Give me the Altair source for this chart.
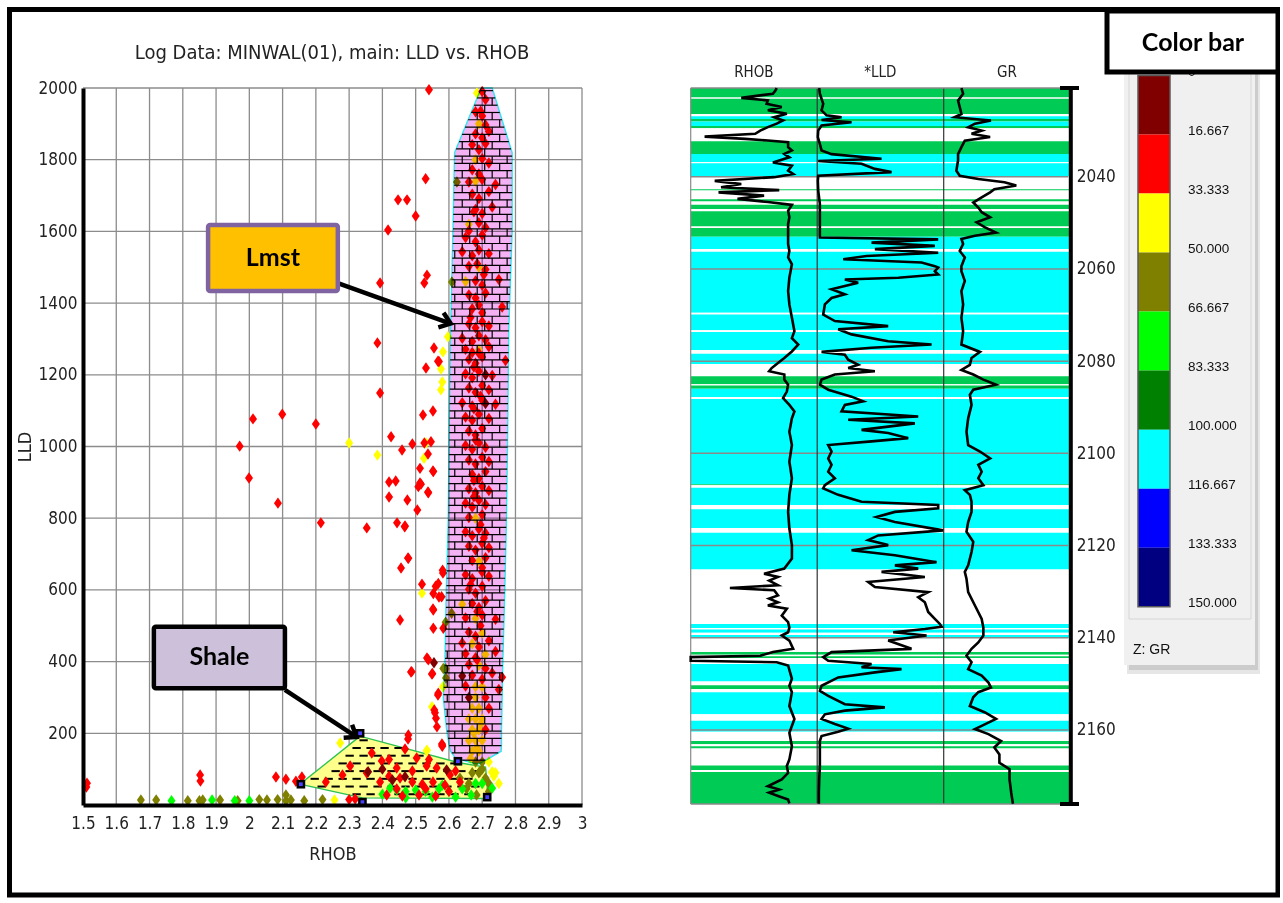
import altair as alt
import numpy as np
import pandas as pd

W, H = 1280, 898
NARROW = "Liberation Sans Narrow, DejaVu Sans Condensed, Arial Narrow, sans-serif"
SANS = "Liberation Sans, Arial, sans-serif"
BOLD = "Lato, Open Sans, Liberation Sans, sans-serif"

# ---------------- data ----------------
title_text = "Log Data: MINWAL(01), main: LLD vs. RHOB"
x_ticks = [1.5, 1.6, 1.7, 1.8, 1.9, 2.0, 2.1, 2.2, 2.3, 2.4, 2.5, 2.6, 2.7, 2.8, 2.9, 3.0]
y_ticks = [200, 400, 600, 800, 1000, 1200, 1400, 1600, 1800, 2000]

gr_breaks = [16.667, 33.333, 50.0, 66.667, 83.333, 100.0, 116.667, 133.333]
gr_colors = ["#800000", "#FF0000", "#FFFF00", "#808000", "#00FF00",
             "#008000", "#00FFFF", "#0000FF", "#000080"]
cb_ticks = [0, 16.667, 33.333, 50.0, 66.667, 83.333, 100.0, 116.667, 133.333, 150.0]
cb_labels = ["0", "16.667", "33.333", "50.000", "66.667", "83.333",
             "100.000", "116.667", "133.333", "150.000"]

# crossplot points (RHOB, LLD) grouped by GR class
red_pts = [
    (2.54, 1995), (2.53, 1747), (2.447, 1688), (2.474, 1688), (2.50, 1643), (2.417, 1604),
    (2.393, 1456), (2.534, 1478), (2.526, 1456), (2.385, 1289), (2.555, 1275), (2.567, 1238),
    (2.531, 1219), (2.393, 1149), (2.522, 1088), (2.552, 1099), (2.011, 1077), (2.099, 1090),
    (2.20, 1063), (1.971, 1001), (2.426, 1027), (2.459, 990), (2.49, 1007), (2.526, 1010),
    (2.537, 979), (2.57, 1237), (2.546, 1013), (2.553, 930), (2.513, 939), (2.516, 895),
    (2.508, 888), (2.538, 871), (2.475, 851), (2.505, 823), (2.467, 776), (2.478, 688),
    (2.581, 655), (2.568, 618), (2.553, 590), (2.578, 581), (2.553, 544), (2.553, 493),
    (2.583, 493), (2.538, 405), (2.488, 372), (2.55, 367), (2.568, 312), (2.556, 265),
    (2.561, 242), (2.478, 195), (2.58, 167), (1.999, 912), (2.086, 842), (2.215, 787),
    (2.353, 773), (2.42, 901), (2.44, 904), (2.42, 859), (2.513, 898), (2.537, 873),
    (2.552, 932), (2.444, 787), (2.468, 778), (2.477, 689), (2.456, 661), (2.519, 616),
    (2.56, 610), (2.57, 580), (2.582, 647), (2.453, 516), (2.552, 547), (2.534, 410),
    (2.486, 371), (2.549, 365), (2.567, 307), (2.558, 257), (2.564, 218), (2.579, 170),
    (1.512, 61), (1.51, 50), (1.852, 84), (1.853, 67), (2.08, 78), (2.11, 72), (2.14, 66),
    (2.158, 78), (2.23, 64),
    (2.368, 145), (2.398, 123), (2.42, 127), (2.443, 103), (2.477, 184), (2.468, 156),
    (2.503, 131), (2.533, 109), (2.54, 127), (2.563, 103), (2.58, 164), (2.303, 109),
    (2.28, 84), (2.353, 89), (2.393, 64), (2.42, 80), (2.453, 75), (2.49, 64), (2.52, 58),
    (2.552, 64), (2.588, 56), (2.603, 84), (2.633, 64), (2.413, 28), (2.46, 25), (2.51, 28),
    (2.56, 25), (2.443, 45), (2.53, 45), (2.60, 38), (2.318, 17), (2.30, 15), (2.49, 95),
    (2.62, 95),
    (2.70, 1990), (2.71, 1968), (2.68, 1934), (2.70, 1922), (2.71, 1897), (2.68, 1872),
    (2.70, 1861), (2.72, 1879), (2.67, 1842), (2.69, 1828), (2.71, 1845), (2.70, 1803),
    (2.72, 1791), (2.67, 1772), (2.69, 1760), (2.66, 1738), (2.70, 1745), (2.74, 1731),
    (2.67, 1704), (2.69, 1692), (2.72, 1711), (2.68, 1661), (2.70, 1650), (2.73, 1668),
    (2.69, 1624), (2.71, 1611), (2.65, 1583), (2.68, 1571), (2.70, 1590), (2.64, 1543),
    (2.67, 1532), (2.69, 1548), (2.72, 1538), (2.66, 1503), (2.71, 1494), (2.68, 1462),
    (2.70, 1450), (2.75, 1466), (2.66, 1423), (2.68, 1414), (2.71, 1428), (2.67, 1384),
    (2.70, 1373), (2.76, 1389), (2.66, 1342), (2.68, 1331), (2.70, 1348), (2.72, 1336),
    (2.64, 1302), (2.67, 1293), (2.69, 1309), (2.71, 1298), (2.65, 1271), (2.67, 1262),
    (2.72, 1278), (2.66, 1243), (2.68, 1232), (2.70, 1250), (2.77, 1240), (2.65, 1203),
    (2.67, 1192), (2.69, 1210), (2.73, 1198), (2.66, 1163), (2.68, 1151), (2.70, 1170),
    (2.72, 1158), (2.64, 1122), (2.67, 1113), (2.70, 1129), (2.74, 1118), (2.65, 1082),
    (2.67, 1073), (2.69, 1090), (2.72, 1078), (2.66, 1043), (2.68, 1032), (2.70, 1050),
    (2.65, 1003), (2.67, 992), (2.69, 1010), (2.71, 998), (2.66, 962), (2.68, 951),
    (2.70, 970), (2.72, 958), (2.67, 922), (2.69, 911), (2.71, 930), (2.66, 882),
    (2.68, 871), (2.70, 889), (2.72, 877), (2.65, 842), (2.67, 831), (2.69, 850),
    (2.71, 838), (2.66, 802), (2.70, 810), (2.65, 762), (2.67, 751), (2.69, 770),
    (2.71, 758), (2.66, 722), (2.68, 711), (2.70, 730), (2.72, 718), (2.67, 682),
    (2.71, 690), (2.65, 642), (2.67, 631), (2.70, 650), (2.72, 638), (2.66, 602),
    (2.68, 591), (2.70, 610), (2.67, 562), (2.69, 551), (2.71, 570), (2.65, 522),
    (2.70, 530), (2.74, 518), (2.66, 482), (2.68, 471), (2.64, 452), (2.69, 441),
    (2.72, 458), (2.65, 422), (2.68, 411), (2.74, 428), (2.66, 392), (2.71, 381),
    (2.67, 362), (2.70, 351), (2.73, 368), (2.76, 356), (2.65, 332), (2.75, 322),
    (2.71, 300), (2.72, 270), (2.71, 210), (2.685, 1510), (2.675, 1105), (2.695, 782),
    (2.685, 540), (2.675, 1222), (2.69, 1395), (2.68, 1018), (2.70, 662), (2.66, 1602),
    (2.695, 1935), (2.675, 1655), (2.705, 1480), (2.665, 1360), (2.695, 1140), (2.675, 905),
    (2.705, 745), (2.665, 615), (2.695, 500), (2.685, 405), (2.675, 860), (2.69, 1260),
]
darkred_pts = [(2.555, 397), (2.357, 93), (2.468, 79), (2.593, 98), (2.71, 1200),
               (2.71, 1120), (2.64, 360), (2.66, 300), (2.43, 70), (2.40, 100)]
yellow_pts = [
    (2.30, 1010), (2.582, 1264), (2.576, 1216), (2.576, 1158), (2.58, 1180), (2.597, 1306),
    (2.385, 976), (2.531, 1010), (2.519, 591), (2.549, 274), (2.534, 153), (2.273, 173),
    (2.533, 151), (2.73, 93), (2.735, 80), (2.582, 330), (2.256, 14), (2.525, 967),
    (2.684, 1986), (2.69, 1900), (2.68, 1800), (2.68, 1740), (2.66, 1620), (2.69, 1500),
    (2.65, 1460), (2.69, 1270), (2.68, 800), (2.69, 680), (2.64, 560), (2.68, 520),
    (2.70, 480), (2.67, 450), (2.71, 420), (2.69, 390), (2.68, 330), (2.70, 330),
    (2.68, 300), (2.67, 270), (2.69, 270), (2.66, 240), (2.68, 240), (2.70, 240),
    (2.67, 210), (2.69, 210), (2.66, 180), (2.68, 180), (2.70, 180), (2.67, 150),
    (2.69, 150), (2.72, 120), (2.73, 90), (2.74, 90), (2.75, 60), (2.675, 200),
    (2.685, 160), (2.695, 225), (2.665, 130),
]
olive_pts = [
    (2.609, 1459), (2.624, 1738), (2.591, 354), (2.59, 380), (2.59, 510), (2.583, 381),
    (2.608, 535), (2.633, 75), (2.693, 93), (2.71, 75), (2.72, 38), (2.653, 45), (2.683, 28),
    (2.70, 100), (2.68, 120), (2.70, 120), (2.67, 90), (2.69, 90), (2.66, 60), (2.72, 60),
    (1.674, 14), (1.72, 14), (1.815, 12), (1.85, 12), (1.86, 14), (1.912, 14), (1.965, 12),
    (2.03, 15), (2.053, 14), (2.085, 15), (2.11, 12), (2.125, 14), (2.165, 12), (2.22, 15),
    (2.11, 28),
]
lime_pts = [
    (1.766, 12), (1.888, 14), (1.956, 12), (2.0, 12), (2.423, 47), (2.443, 42), (2.47, 38),
    (2.50, 42), (2.53, 38), (2.57, 45), (2.60, 38), (2.64, 45), (2.68, 60), (2.70, 60),
    (2.73, 47), (2.667, 28), (2.40, 30), (2.47, 20), (2.55, 22), (2.62, 22), (2.58, 55),
]
group_gr = {"olive": 58, "lime": 75, "yellow": 42, "red": 25, "darkred": 8}

# Lmst polygon outline (LLD, left RHOB, right RHOB)
lm_lld = [115, 130, 150, 170, 210, 300, 400, 600, 800, 1000, 1330, 1600, 1820, 2000]
lm_left = [2.68, 2.62, 2.605, 2.60, 2.593, 2.583, 2.588, 2.592, 2.598, 2.60, 2.605, 2.612, 2.617, 2.697]
lm_right = [2.69, 2.72, 2.757, 2.758, 2.758, 2.760, 2.762, 2.768, 2.773, 2.776, 2.78, 2.79, 2.79, 2.73]
# Shale polygon outline
sh_lld = [18, 20, 58, 106, 118, 192]
sh_left = [2.70, 2.34, 2.152, 2.217, 2.233, 2.333]
sh_right = [2.715, 2.715, 2.715, 2.71, 2.63, 2.333]
vertex_rhob = [2.333, 2.155, 2.34, 2.627, 2.715]
vertex_lld = [200, 58, 8, 122, 22]

# log curves (depth, value)
rhob_curve = [
    (2020.8, 2.63), (2021.3, 2.62), (2022.0, 2.60), (2022.9, 2.35), (2023.45, 2.56), (2024.2, 2.55),
    (2024.9, 2.67), (2025.6, 2.56), (2026.35, 2.71), (2027.1, 2.61), (2027.8, 2.68), (2028.5, 2.63),
    (2029.25, 2.56), (2030.0, 2.50), (2030.7, 2.46), (2031.3, 2.06), (2031.8, 2.38), (2032.15, 2.56),
    (2032.5, 2.72), (2033.6, 2.72), (2034.3, 2.75), (2035.05, 2.69), (2035.8, 2.73), (2036.9, 2.60),
    (2037.6, 2.75), (2038.7, 2.72), (2039.4, 2.76), (2040.1, 2.61), (2040.9, 2.14), (2041.6, 2.35),
    (2042.3, 2.19), (2042.9, 2.65), (2043.4, 2.17), (2044.1, 2.53), (2044.8, 2.32), (2045.5, 2.56),
    (2046.1, 2.75), (2047.4, 2.72), (2048.8, 2.73), (2050.3, 2.72), (2051.7, 2.72), (2053.2, 2.72),
    (2054.6, 2.72), (2056.1, 2.73), (2057.5, 2.72), (2059.0, 2.75), (2061.9, 2.73), (2064.8, 2.72),
    (2067.7, 2.73), (2070.6, 2.75), (2073.5, 2.77), (2075.0, 2.75), (2076.4, 2.80), (2077.9, 2.75),
    (2079.3, 2.69), (2080.4, 2.64), (2081.5, 2.59), (2082.2, 2.57), (2082.9, 2.69), (2084.0, 2.69),
    (2085.1, 2.72), (2086.6, 2.71), (2088.0, 2.68), (2089.5, 2.73), (2090.9, 2.77), (2092.4, 2.75),
    (2095.3, 2.73), (2098.2, 2.75), (2101.8, 2.73), (2105.4, 2.75), (2109.0, 2.73), (2112.7, 2.72),
    (2116.3, 2.73), (2119.9, 2.75), (2122.8, 2.75), (2125.0, 2.69), (2126.1, 2.53), (2126.8, 2.64),
    (2127.6, 2.57), (2128.6, 2.64), (2129.2, 2.26), (2129.7, 2.61), (2130.8, 2.64), (2131.5, 2.57),
    (2132.3, 2.64), (2133.0, 2.56), (2133.7, 2.71), (2135.2, 2.67), (2136.6, 2.72), (2137.8, 2.73),
    (2138.8, 2.72), (2139.5, 2.67), (2140.6, 2.73), (2142.4, 2.76), (2143.1, 2.60), (2143.9, 2.50),
    (2144.2, 1.95), (2145.0, 1.95), (2145.3, 2.63), (2146.0, 2.72), (2148.9, 2.75), (2150.4, 2.73),
    (2151.8, 2.75), (2154.8, 2.73), (2157.6, 2.77), (2160.6, 2.73), (2163.5, 2.75), (2166.4, 2.73),
    (2167.8, 2.71), (2169.3, 2.72), (2170.7, 2.67), (2172.2, 2.56), (2172.9, 2.65), (2173.6, 2.57),
    (2174.3, 2.64), (2175.1, 2.72), (2175.9, 2.73),
]
lld_curve = [
    (2020.8, 32), (2022.0, 42), (2024.2, 95), (2025.6, 69), (2026.7, 148), (2027.1, 385), (2027.7, 69),
    (2028.2, 543), (2028.9, 69), (2030.0, 16), (2031.4, 10), (2032.9, 42), (2034.3, 69), (2035.1, 227),
    (2036.1, 1017), (2036.6, 16), (2037.2, 701), (2038.3, 912), (2039.0, 1175), (2039.8, 16),
    (2040.9, 10), (2043.0, 16), (2045.9, 42), (2048.8, 42), (2051.7, 42), (2053.2, 42), (2053.6, 1913),
    (2054.3, 859), (2055.0, 1860), (2055.7, 912), (2056.5, 1913), (2057.2, 780), (2057.9, 411),
    (2058.6, 1650), (2059.4, 1860), (2059.7, 1913), (2060.5, 1860), (2061.2, 1913), (2061.9, 1281),
    (2062.3, 437), (2063.0, 648), (2063.7, 437), (2064.4, 227), (2065.5, 437), (2066.3, 227),
    (2067.7, 121), (2069.9, 95), (2071.3, 279), (2072.4, 1122), (2073.1, 332), (2074.2, 543),
    (2075.7, 1122), (2076.4, 1808), (2077.1, 859), (2078.0, 69), (2078.6, 437), (2079.7, 490),
    (2080.8, 648), (2081.5, 490), (2082.2, 912), (2082.9, 279), (2084.0, 69), (2085.1, 42),
    (2086.2, 174), (2087.7, 543), (2088.7, 727), (2089.5, 437), (2090.9, 385), (2092.0, 1597),
    (2092.7, 490), (2093.5, 1544), (2094.2, 1122), (2094.9, 701), (2095.6, 1122), (2096.7, 1439),
    (2097.4, 859), (2098.2, 174), (2099.6, 227), (2101.1, 174), (2102.5, 227), (2104.0, 174),
    (2105.4, 279), (2106.9, 121), (2107.6, 95), (2109.0, 332), (2110.5, 701), (2111.2, 1913),
    (2111.9, 1913), (2112.7, 1228), (2113.8, 938), (2114.9, 1228), (2116.7, 1992), (2117.8, 964),
    (2118.8, 806), (2119.9, 1122), (2121.0, 543), (2122.1, 1228), (2123.6, 1887), (2124.3, 1228),
    (2125.0, 1597), (2125.7, 1017), (2126.8, 1702), (2127.9, 806), (2129.0, 912), (2130.1, 1755),
    (2131.2, 1597), (2132.3, 1702), (2134.4, 1755), (2135.9, 1860), (2137.0, 1939), (2137.6, 1966),
    (2138.1, 1702), (2138.8, 1202), (2139.5, 1729), (2140.6, 1122), (2142.4, 1491), (2143.1, 227),
    (2144.2, 95), (2145.0, 174), (2145.7, 859), (2146.4, 701), (2146.8, 1333), (2147.5, 912),
    (2148.6, 332), (2150.4, 69), (2151.5, 42), (2152.6, 174), (2154.4, 437), (2155.1, 1070),
    (2155.8, 437), (2156.6, 121), (2157.6, 69), (2158.7, 279), (2159.7, 490), (2160.4, 332),
    (2161.3, 69), (2162.4, 42), (2164.9, 42), (2167.8, 42), (2170.7, 32), (2173.6, 26), (2176.0, 26),
]
gr_curve = [
    (2020.8, 21), (2022.0, 23), (2023.5, 17), (2024.9, 19), (2026.4, 21), (2027.1, 13), (2027.8, 56),
    (2028.5, 37), (2029.3, 29), (2030.0, 45), (2030.7, 33), (2031.4, 55), (2032.2, 25), (2033.6, 21),
    (2035.1, 17), (2036.5, 17), (2038.7, 15), (2039.8, 19), (2040.5, 41), (2041.2, 72), (2041.9, 86),
    (2042.7, 60), (2043.4, 55), (2044.5, 45), (2045.6, 35), (2046.7, 41), (2047.7, 45), (2048.8, 55),
    (2049.9, 39), (2051.0, 49), (2052.1, 62), (2052.8, 37), (2053.5, 21), (2054.6, 23), (2056.1, 19),
    (2057.5, 25), (2059.4, 21), (2060.5, 21), (2062.6, 25), (2064.8, 21), (2067.7, 23), (2070.6, 21),
    (2073.5, 23), (2076.4, 21), (2078.0, 43), (2079.3, 33), (2080.8, 31), (2081.9, 21), (2082.9, 35),
    (2084.0, 47), (2085.1, 62), (2086.2, 35), (2087.3, 31), (2089.5, 33), (2092.4, 29), (2095.3, 27),
    (2098.2, 29), (2099.6, 43), (2101.1, 55), (2102.5, 41), (2104.0, 45), (2105.4, 41), (2106.9, 47),
    (2108.0, 25), (2109.0, 31), (2110.5, 33), (2112.7, 33), (2114.9, 29), (2117.0, 27), (2119.2, 35),
    (2121.4, 33), (2124.3, 29), (2125.7, 25), (2127.2, 27), (2130.1, 29), (2133.0, 37), (2135.9, 45),
    (2137.8, 47), (2139.5, 47), (2141.0, 41), (2142.4, 33), (2143.9, 27), (2145.3, 33), (2146.8, 29),
    (2148.2, 45), (2149.7, 53), (2150.8, 56), (2151.8, 41), (2152.9, 35), (2154.8, 31), (2156.2, 49),
    (2157.6, 62), (2159.1, 45), (2159.8, 37), (2160.9, 53), (2162.4, 68), (2163.8, 60), (2165.3, 66),
    (2167.1, 66), (2168.5, 78), (2170.7, 78), (2173.6, 80), (2176.0, 82),
]
# lithology background bands (top depth, bottom depth, class)
bands = [
    (2020.76, 2022.8, "G"), (2022.8, 2023.1, "W"), (2023.1, 2026.4, "G"), (2026.4, 2026.9, "W"),
    (2026.9, 2027.5, "C"), (2027.5, 2028.0, "G"), (2028.0, 2029.0, "C"), (2029.0, 2029.5, "G"),
    (2029.5, 2032.3, "W"), (2032.3, 2035.05, "G"), (2035.05, 2036.8, "C"), (2036.8, 2037.1, "W"),
    (2037.1, 2040.0, "C"), (2040.0, 2042.7, "W"), (2042.7, 2043.0, "G"), (2043.0, 2044.9, "W"),
    (2044.9, 2045.4, "G"), (2045.4, 2046.1, "W"), (2046.1, 2047.0, "G"), (2047.0, 2047.5, "W"),
    (2047.5, 2050.8, "G"), (2050.8, 2051.1, "W"), (2051.1, 2053.0, "G"), (2053.0, 2055.7, "C"),
    (2055.7, 2056.3, "W"), (2056.3, 2069.5, "C"), (2069.5, 2069.9, "W"), (2069.9, 2073.3, "C"),
    (2073.3, 2073.7, "W"), (2073.7, 2077.6, "C"), (2077.6, 2078.4, "W"), (2078.4, 2080.6, "C"),
    (2080.6, 2083.3, "W"), (2083.3, 2085.0, "G"), (2085.0, 2085.3, "W"), (2085.3, 2086.0, "G"),
    (2086.0, 2087.8, "C"), (2087.8, 2088.2, "W"), (2088.2, 2106.7, "C"), (2106.7, 2106.9, "G"),
    (2106.9, 2107.45, "W"), (2107.45, 2111.2, "C"), (2111.2, 2112.1, "W"), (2112.1, 2116.2, "C"),
    (2116.2, 2117.2, "W"), (2117.2, 2125.2, "C"), (2125.2, 2137.0, "W"), (2137.0, 2137.9, "C"),
    (2137.9, 2138.2, "W"), (2138.2, 2138.9, "C"), (2138.9, 2139.4, "W"), (2139.4, 2140.1, "C"),
    (2140.1, 2143.1, "W"), (2143.1, 2143.7, "G"), (2143.7, 2144.0, "W"), (2144.0, 2144.4, "G"),
    (2144.4, 2145.7, "W"), (2145.7, 2149.5, "C"), (2149.5, 2150.3, "W"), (2150.3, 2151.1, "G"),
    (2151.1, 2151.8, "W"), (2151.8, 2156.6, "C"), (2156.6, 2158.0, "W"), (2158.0, 2160.4, "C"),
    (2160.4, 2162.4, "W"), (2162.4, 2163.1, "G"), (2163.1, 2163.5, "W"), (2163.5, 2164.0, "G"),
    (2164.0, 2167.7, "W"), (2167.7, 2168.7, "G"), (2168.7, 2169.1, "W"), (2169.1, 2176.05, "G"),
]
depth_ticks = [2040, 2060, 2080, 2100, 2120, 2140, 2160]
track_names = ["RHOB", "*LLD", "GR"]

# ---------------- scales ----------------
SX = alt.Scale(domain=[1.5, 3.0], range=[83, 582], zero=False, nice=False)
SY = alt.Scale(domain=[0, 2000], range=[805, 88], zero=False, nice=False)
SD = alt.Scale(domain=[2020.76, 2176.05], range=[88, 804], zero=False, nice=False)
S_RHOB = alt.Scale(domain=[1.95, 2.95], range=[690.7, 817.2], zero=False, nice=False)
S_LLD = alt.Scale(domain=[0, 2000], range=[817.2, 943.7], zero=False, nice=False)
S_GR = alt.Scale(domain=[0, 150], range=[943.7, 1070.3], zero=False, nice=False)
S_CB = alt.Scale(domain=[0, 150], range=[75.5, 606.7], zero=False, nice=False)
S_PX = alt.Scale(domain=[0, W], range=[0, W], zero=False, nice=False)
S_PY = alt.Scale(domain=[0, H], range=[0, H], zero=False, nice=False)
GRC = alt.Scale(type="threshold", domain=gr_breaks, range=gr_colors)

def xs(f, axis=None):
    return alt.X(f, type="quantitative", scale=SX, axis=axis)

def ys(f, axis=None):
    return alt.Y(f, type="quantitative", scale=SY, axis=axis)

layers = []

# ---------------- crossplot ----------------
vgrid = pd.DataFrame({"v": x_ticks[1:], "a": 0, "b": 2000})
hgrid = pd.DataFrame({"v": y_ticks, "a": 1.5, "b": 3.0})
x_axis = alt.Axis(orient="bottom", offset=805 - H, values=x_ticks, format=".1~f", grid=False,
                  domainColor="black", domainWidth=4, tickSize=0, labelPadding=10,
                  labelFont=NARROW, labelFontSize=17, labelColor="#222", labelFlush=False,
                  labelOverlap=False, title="RHOB", titleFont=NARROW, titleFontSize=18,
                  titleFontWeight="normal", titleColor="#222", titlePadding=14, zindex=2)
y_axis = alt.Axis(orient="left", offset=-83, values=y_ticks, format="d", grid=False,
                  domainColor="black", domainWidth=4, tickSize=0, labelPadding=6,
                  labelFont=NARROW, labelFontSize=17, labelColor="#222", labelFlush=False,
                  labelOverlap=False, title="LLD", titleFont=NARROW, titleFontSize=18,
                  titleFontWeight="normal", titleColor="#222", titlePadding=4, zindex=2)
layers.append(alt.Chart(vgrid).mark_rule(color="#8c8c8c", strokeWidth=1.3).encode(
    x=xs("v", x_axis), y=ys("a"), y2="b"))
layers.append(alt.Chart(hgrid).mark_rule(color="#8c8c8c", strokeWidth=1.3).encode(
    y=ys("v", y_axis), x=xs("a"), x2="b"))

# shale polygon + dash pattern
sh_df = pd.DataFrame({"LLD": sh_lld, "left": sh_left, "right": sh_right})
layers.append(alt.Chart(sh_df).mark_area(orient="horizontal", fill="#FFFF8C", stroke="#2DC24F",
                                         strokeWidth=1.4, opacity=1).encode(
    y=ys("LLD"), x=xs("left"), x2="right"))
dash_rows = []
for k, yv in enumerate(np.arange(30, 190, 21.5)):
    l = np.interp(yv, sh_lld, sh_left)
    r = np.interp(yv, sh_lld, sh_right)
    for x0 in np.arange(2.10 + (k % 2) * 0.021, 2.75, 0.042):
        if x0 > l + 0.004 and x0 + 0.025 < r - 0.004:
            dash_rows.append({"a": x0, "b": x0 + 0.025, "y": yv})
layers.append(alt.Chart(pd.DataFrame(dash_rows)).mark_rule(color="black", strokeWidth=2).encode(
    x=xs("a"), x2="b", y=ys("y")))

# points
DIAMOND = "M0,-1.43L1,0L0,1.43L-1,0Z"
rows = []
for name, pts in [("olive", olive_pts), ("lime", lime_pts), ("yellow", yellow_pts),
                  ("red", red_pts), ("darkred", darkred_pts)]:
    for r, l in pts:
        rows.append({"RHOB": r, "LLD": l, "GR": group_gr[name]})
pts_df = pd.DataFrame(rows)
layers.append(alt.Chart(pts_df).mark_point(shape=DIAMOND, filled=True, size=64, opacity=1,
                                           strokeWidth=0).encode(
    x=xs("RHOB"), y=ys("LLD"),
    color=alt.Color("GR:Q", scale=GRC, legend=None)))

# Lmst polygon (multiplied over points) + brick pattern
lm_df = pd.DataFrame({"LLD": lm_lld, "left": lm_left, "right": lm_right})
layers.append(alt.Chart(lm_df).mark_area(orient="horizontal", fill="#F4B2F4", stroke="#30E8F0",
                                         strokeWidth=1.4, opacity=1, blend="multiply").encode(
    y=ys("LLD"), x=xs("left"), x2="right"))
brick_rows = np.arange(125, 2000, 20.3)
hl, vl = [], []
for i, yv in enumerate(brick_rows):
    l = np.interp(yv, lm_lld, lm_left)
    r = np.interp(yv, lm_lld, lm_right)
    hl.append({"a": l, "b": r, "y": yv})
    if i + 1 < len(brick_rows):
        y2 = brick_rows[i + 1]
        l2 = max(l, np.interp(y2, lm_lld, lm_left))
        r2 = min(r, np.interp(y2, lm_lld, lm_right))
        for xv in np.arange(2.55 + (i % 2) * 0.0225, 2.81, 0.045):
            if l2 + 0.006 < xv < r2 - 0.006:
                vl.append({"x": xv, "a": yv, "b": y2})
layers.append(alt.Chart(pd.DataFrame(hl)).mark_rule(color="black", strokeWidth=1.2).encode(
    x=xs("a"), x2="b", y=ys("y")))
layers.append(alt.Chart(pd.DataFrame(vl)).mark_rule(color="black", strokeWidth=1.2).encode(
    x=xs("x"), y=ys("a"), y2="b"))

# polygon vertex handles
vx = pd.DataFrame({"RHOB": vertex_rhob, "LLD": vertex_lld})
layers.append(alt.Chart(vx).mark_point(shape="square", filled=True, size=75, color="black",
                                       opacity=1).encode(x=xs("RHOB"), y=ys("LLD")))
layers.append(alt.Chart(vx).mark_point(shape="square", filled=True, size=14, color="#4a40ff",
                                       opacity=1).encode(x=xs("RHOB"), y=ys("LLD")))

# annotation arrows and boxes
arrows = pd.DataFrame({"x1": [2.266, 2.107], "y1": [1456, 321],
                       "x2": [2.605, 2.322], "y2": [1343, 190], "ang": [19.8, 33.3]})
layers.append(alt.Chart(arrows).mark_rule(color="black", strokeWidth=4.5).encode(
    x=xs("x1"), y=ys("y1"), x2="x2", y2="y2"))
layers.append(alt.Chart(arrows).mark_point(shape="M-1,-0.75L0,0L-1,0.75", filled=False,
                                           stroke="black", strokeWidth=4.5, size=420,
                                           opacity=1).encode(
    x=xs("x2"), y=ys("y2"), angle=alt.Angle("ang:Q", scale=None)))
boxes = pd.DataFrame({"x1": [1.876, 1.713], "x2": [2.266, 2.107],
                      "y1": [1618, 497], "y2": [1434, 326],
                      "label": ["Lmst", "Shale"], "k": ["a", "b"]})
layers.append(alt.Chart(boxes).mark_rect(strokeWidth=4.5, cornerRadius=2).encode(
    x=xs("x1"), x2="x2", y=ys("y1"), y2="y2",
    fill=alt.Fill("k:N", scale=alt.Scale(domain=["a", "b"], range=["#FFC000", "#CCC0DA"]), legend=None),
    stroke=alt.Stroke("k:N", scale=alt.Scale(domain=["a", "b"], range=["#8064A2", "#000000"]), legend=None)))
boxes["cx"] = (boxes["x1"] + boxes["x2"]) / 2
boxes["cy"] = (boxes["y1"] + boxes["y2"]) / 2
layers.append(alt.Chart(boxes).mark_text(font=BOLD, fontWeight="bold", fontSize=25,
                                         color="black", baseline="middle").encode(
    x=xs("cx"), y=ys("cy"), text="label:N"))

# title
layers.append(alt.Chart(pd.DataFrame({"t": [title_text]})).mark_text(
    font=NARROW, fontSize=20, color="#222", baseline="middle").encode(
    text="t:N", x=alt.value(332), y=alt.value(53)))

# ---------------- log tracks ----------------
band_df = pd.DataFrame(bands, columns=["top", "bot", "cls"])
layers.append(alt.Chart(band_df).mark_rect(opacity=1).encode(
    y=alt.Y("top:Q", scale=SD, axis=None), y2="bot:Q",
    x=alt.value(690.7), x2=alt.value(1070.3),
    color=alt.Color("cls:N", scale=alt.Scale(domain=["G", "C", "W"],
                                             range=["#00CC55", "#00FFFF", "#FFFFFF"]), legend=None)))
depth_axis = alt.Axis(orient="right", offset=1070.3 - W, values=depth_ticks, format="d", grid=False,
                      domainColor="black", domainWidth=4, tickSize=0, labelPadding=6,
                      labelFont=NARROW, labelFontSize=17, labelColor="#222", labelFlush=False,
                      labelOverlap=False, title=None, zindex=2)
layers.append(alt.Chart(pd.DataFrame({"d": depth_ticks})).mark_rule(
    color="#8a8a8a", strokeWidth=1.5).encode(
    y=alt.Y("d:Q", scale=SD, axis=depth_axis), x=alt.value(690.7), x2=alt.value(1068)))
frame_lines = pd.DataFrame({"x": [690.7, 817.2, 943.7], "c": ["a", "b", "b"]})
layers.append(alt.Chart(frame_lines).mark_rule(strokeWidth=1.2).encode(
    x=alt.X("x:Q", scale=S_PX, axis=None),
    y=alt.value(88), y2=alt.value(804),
    color=alt.Color("c:N", scale=alt.Scale(domain=["a", "b"], range=["#8a8a8a", "#333333"]), legend=None)))
layers.append(alt.Chart(pd.DataFrame({"d": [2020.76, 2176.05]})).mark_rule(
    color="#8a8a8a", strokeWidth=1.5).encode(
    y=alt.Y("d:Q", scale=SD, axis=None), x=alt.value(690.7), x2=alt.value(1068)))
layers.append(alt.Chart(pd.DataFrame({"d": [2020.76, 2176.05]})).mark_rule(
    color="black", strokeWidth=4).encode(
    y=alt.Y("d:Q", scale=SD, axis=None), x=alt.value(1060), x2=alt.value(1079)))

for data, name, scale in [(rhob_curve, "RHOB", S_RHOB), (lld_curve, "LLD", S_LLD), (gr_curve, "GR", S_GR)]:
    df = pd.DataFrame(data, columns=["depth", "val"])
    layers.append(alt.Chart(df).mark_line(color="black", strokeWidth=2.6, strokeJoin="miter",
                                          clip=False).encode(
        x=alt.X("val:Q", scale=scale, axis=None),
        y=alt.Y("depth:Q", scale=SD, axis=None),
        order=alt.Order("depth:Q")))

hdr = pd.DataFrame({"name": track_names, "cx": [753.9, 880.4, 1007.0]})
layers.append(alt.Chart(hdr).mark_text(font=NARROW, fontSize=15, color="#222",
                                       baseline="middle").encode(
    text="name:N", x=alt.X("cx:Q", scale=S_PX, axis=None),
    y=alt.value(72)))

# ---------------- colour bar ----------------
shadow = pd.DataFrame({"a": [1127, 1129], "b": [1260, 1258], "t": [58, 58], "u": [674, 670],
                       "o": [0.25, 0.35]})
layers.append(alt.Chart(shadow).mark_rect(color="#9a9a9a").encode(
    x=alt.X("a:Q", scale=S_PX, axis=None), x2="b",
    y=alt.Y("t:Q", scale=S_PY, axis=None), y2="u",
    opacity=alt.Opacity("o:Q", scale=None)))
layers.append(alt.Chart(pd.DataFrame({"k": [0]})).mark_rect(fill="#F0F0F0").encode(
    x=alt.value(1124), x2=alt.value(1255), y=alt.value(55), y2=alt.value(665)))
layers.append(alt.Chart(pd.DataFrame({"k": [0]})).mark_rect(fill="#F0F0F0", stroke="#D6D6D6",
                                                            strokeWidth=1).encode(
    x=alt.value(1129), x2=alt.value(1251), y=alt.value(55), y2=alt.value(619)))
cb_df = pd.DataFrame({"lo": cb_ticks[:-1], "hi": cb_ticks[1:]})
cb_df["mid"] = (cb_df["lo"] + cb_df["hi"]) / 2
layers.append(alt.Chart(cb_df).mark_rect(opacity=1).encode(
    y=alt.Y("lo:Q", scale=S_CB, axis=None), y2="hi:Q",
    x=alt.value(1138), x2=alt.value(1170),
    color=alt.Color("mid:Q", scale=GRC, legend=None)))
layers.append(alt.Chart(pd.DataFrame({"lo": [0], "hi": [150]})).mark_rect(
    fillOpacity=0, stroke="#5a5a5a", strokeWidth=1.5).encode(
    y=alt.Y("lo:Q", scale=S_CB, axis=None), y2="hi:Q",
    x=alt.value(1138), x2=alt.value(1170)))
cbl = pd.DataFrame({"v": cb_ticks, "lab": cb_labels})
layers.append(alt.Chart(cbl).mark_text(font=SANS, fontSize=13.5, color="#111", align="left",
                                       baseline="middle", dy=-4).encode(
    y=alt.Y("v:Q", scale=S_CB, axis=None), x=alt.value(1188), text="lab:N"))
layers.append(alt.Chart(pd.DataFrame({"t": ["Z: GR"]})).mark_text(
    font=SANS, fontSize=14, color="#111", align="left", baseline="middle").encode(
    text="t:N", x=alt.value(1133), y=alt.value(650)))
layers.append(alt.Chart(pd.DataFrame({"t": ["Color bar"]})).mark_rect(
    fill="white", stroke="black", strokeWidth=5).encode(
    x=alt.value(1107), x2=alt.value(1279), y=alt.value(11), y2=alt.value(72)))
layers.append(alt.Chart(pd.DataFrame({"t": ["Color bar"]})).mark_text(
    font=BOLD, fontWeight="bold", fontSize=25, color="black", baseline="middle").encode(
    text="t:N", x=alt.value(1193), y=alt.value(43)))

# outer frame
layers.append(alt.Chart(pd.DataFrame({"k": [0]})).mark_rect(
    fillOpacity=0, stroke="black", strokeWidth=5).encode(
    x=alt.value(9.5), x2=alt.value(1278), y=alt.value(9.5), y2=alt.value(895)))

chart = alt.layer(*layers).resolve_scale(
    x="independent", y="independent", color="independent",
    fill="independent", stroke="independent", opacity="independent"
).properties(
    width=W, height=H, autosize=alt.AutoSizeParams(type="none"), padding=0,
    background="white"
).configure_view(stroke=None)

chart.save("out.html", embed_options={"renderer": "svg", "actions": False})
